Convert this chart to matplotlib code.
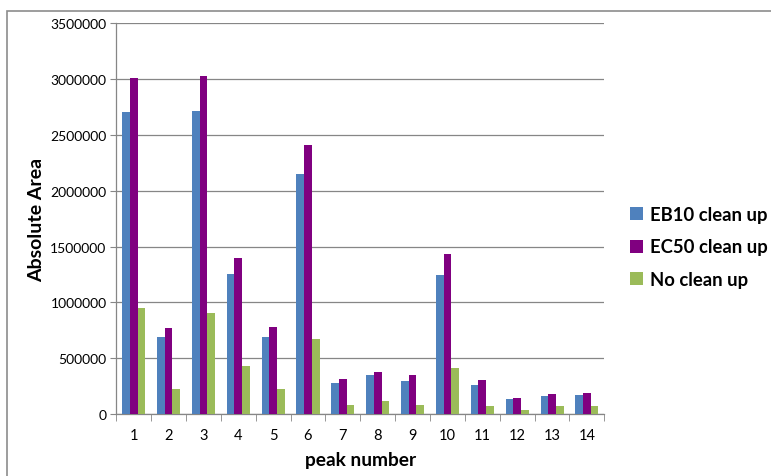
import matplotlib.pyplot as plt
import numpy as np
from matplotlib.patches import Rectangle

# peak areas
peaks = [str(i) for i in range(1, 15)]
eb10 = [2704000, 689000, 2713000, 1258000, 689000, 2149000, 280000,
        349000, 298000, 1246000, 262000, 134000, 164000, 170000]
ec50 = [3011000, 769000, 3029000, 1395000, 778000, 2406000, 313000,
        381000, 349000, 1434000, 310000, 146000, 182000, 190000]
no_clean = [948000, 229000, 909000, 432000, 229000, 676000, 83000,
            116000, 83000, 414000, 77000, 41000, 77000, 77000]

series = [("EB10 clean up", eb10, "#4F81BD"),
          ("EC50 clean up", ec50, "#800080"),
          ("No clean up", no_clean, "#9BBB59")]

plt.rcParams['font.family'] = ['Lato', 'DejaVu Sans']

fig = plt.figure(figsize=(7.71, 4.77), dpi=100)
fig.patches.append(Rectangle((7 / 771, -0.1), 1.2, 1 - 12 / 477 + 0.1,
                             transform=fig.transFigure, fill=False,
                             edgecolor="#8C8C8C", linewidth=1.2))

ax = fig.add_axes([0.1508, 0.1294, 0.633, 0.8203])

x = np.arange(len(peaks))
w = 0.22
for i, (name, vals, col) in enumerate(series):
    ax.bar(x + (i - 1) * w, vals, width=w, color=col, label=name, zorder=3)

ax.set_xlim(-0.5, len(peaks) - 0.5)
ax.set_ylim(0, 3500000)
ax.set_yticks(np.arange(0, 3500001, 500000))
ax.set_yticklabels([str(v) for v in range(0, 3500001, 500000)])
ax.set_xticks(x)
ax.set_xticklabels(peaks)
ax.set_xticks(np.arange(-0.5, len(peaks)), minor=True)
ax.tick_params(axis='x', which='major', length=0, pad=10, labelsize=10.5, colors="#000000")
ax.tick_params(axis='x', which='minor', length=5, color="#868686", direction='out')
ax.tick_params(axis='y', length=4, color="#868686", labelsize=10, pad=3)

ax.grid(axis='y', color="#868686", linewidth=0.9, zorder=0)
for s in ['top', 'right']:
    ax.spines[s].set_visible(False)
for s in ['left', 'bottom']:
    ax.spines[s].set_color("#868686")
    ax.spines[s].set_linewidth(0.9)

ax.set_ylabel("Absolute Area", fontsize=14, fontweight='bold')
ax.yaxis.set_label_coords(-0.145, 0.5)
ax.set_xlabel("peak number", fontsize=13.8, fontweight='bold')
ax.xaxis.set_label_coords(0.5, -0.093)

fig.legend(loc='center left', bbox_to_anchor=(613 / 771, 1 - 248 / 477),
           frameon=False, prop={'weight': 'bold', 'size': 13.3},
           handlelength=0.7, handleheight=0.7, handletextpad=0.4,
           labelspacing=0.82)

fig.savefig("out.png", dpi=100)
